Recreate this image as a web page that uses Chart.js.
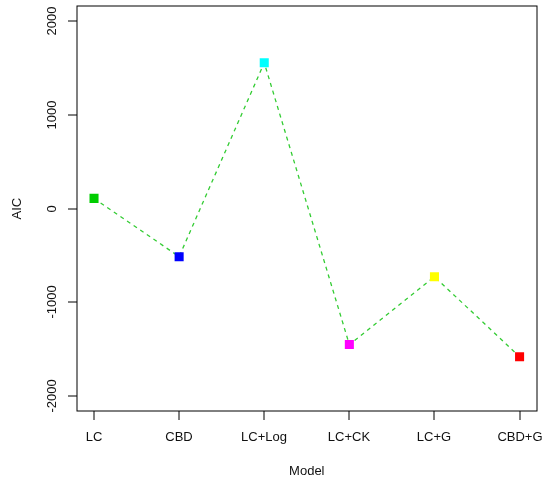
<!DOCTYPE html>
<html>
<head>
<meta charset="utf-8">
<script src="https://cdn.jsdelivr.net/npm/chart.js@4"></script>
<style>
html,body{margin:0;padding:0;background:#fff;}
#wrap{width:543px;height:480px;position:relative;}
</style>
</head>
<body>
<div id="wrap"><canvas id="c" width="543" height="480"></canvas></div>
<script>
const categories = ["LC", "CBD", "LC+Log", "LC+CK", "LC+G", "CBD+G"];
const aicValues = [110, -512, 1558, -1451, -726, -1580];
const pointColors = ["#00CD00", "#0000FF", "#00FFFF", "#FF00FF", "#FFFF00", "#FF0000"];
const yTicks = [-2000, -1000, 0, 1000, 2000];
const xTitle = "Model";
const yTitle = "AIC";

const FONT = '13px "Liberation Sans", Arial, sans-serif';
const TXT = '#111';

const axesPlugin = {
  id: 'rAxes',
  afterDraw(chart) {
    const ctx = chart.ctx;
    const a = chart.chartArea;
    const xs = chart.scales.x, ys = chart.scales.y;
    ctx.save();
    ctx.strokeStyle = '#000';
    ctx.lineWidth = 1;
    // frame (on integer coordinates to mimic the soft 2px R line)
    ctx.strokeRect(Math.round(a.left), Math.round(a.top),
                   Math.round(a.right - a.left), Math.round(a.bottom - a.top));
    ctx.fillStyle = TXT;
    ctx.font = FONT;
    // x ticks
    ctx.textAlign = 'center';
    ctx.textBaseline = 'middle';
    categories.forEach((c, i) => {
      const px = Math.round(xs.getPixelForValue(i + 1));
      ctx.beginPath();
      ctx.moveTo(px, Math.round(a.bottom));
      ctx.lineTo(px, Math.round(a.bottom) + 9);
      ctx.stroke();
      ctx.fillText(c, px, a.bottom + 26);
    });
    // y ticks
    yTicks.forEach(v => {
      const py = Math.round(ys.getPixelForValue(v));
      ctx.beginPath();
      ctx.moveTo(Math.round(a.left), py);
      ctx.lineTo(Math.round(a.left) - 9, py);
      ctx.stroke();
      ctx.save();
      ctx.translate(52, py);
      ctx.rotate(-Math.PI / 2);
      ctx.fillText(String(v), 0, 0);
      ctx.restore();
    });
    // titles
    ctx.fillText(xTitle, (a.left + a.right) / 2, 471);
    ctx.save();
    ctx.translate(17, (a.top + a.bottom) / 2);
    ctx.rotate(-Math.PI / 2);
    ctx.fillText(yTitle, 0, 0);
    ctx.restore();
    ctx.restore();
  }
};

new Chart(document.getElementById('c'), {
  type: 'line',
  data: {
    datasets: [{
      data: aicValues.map((v, i) => ({ x: i + 1, y: v })),
      borderColor: '#33cc33',
      borderWidth: 1.3,
      borderDash: [4, 4],
      pointStyle: 'rect',
      pointRadius: 6.4,
      pointHoverRadius: 6.4,
      pointBackgroundColor: pointColors,
      pointBorderWidth: 0,
      pointBorderColor: pointColors,
      fill: false,
      tension: 0
    }]
  },
  options: {
    responsive: false,
    animation: false,
    devicePixelRatio: 1,
    layout: { padding: { left: 77, top: 6, right: 6, bottom: 69 } },
    plugins: { legend: { display: false }, tooltip: { enabled: false } },
    scales: {
      x: { type: 'linear', min: 0.8, max: 6.2, display: false },
      y: { type: 'linear', min: -2160, max: 2160, display: false }
    }
  },
  plugins: [axesPlugin]
});
</script>
</body>
</html>
